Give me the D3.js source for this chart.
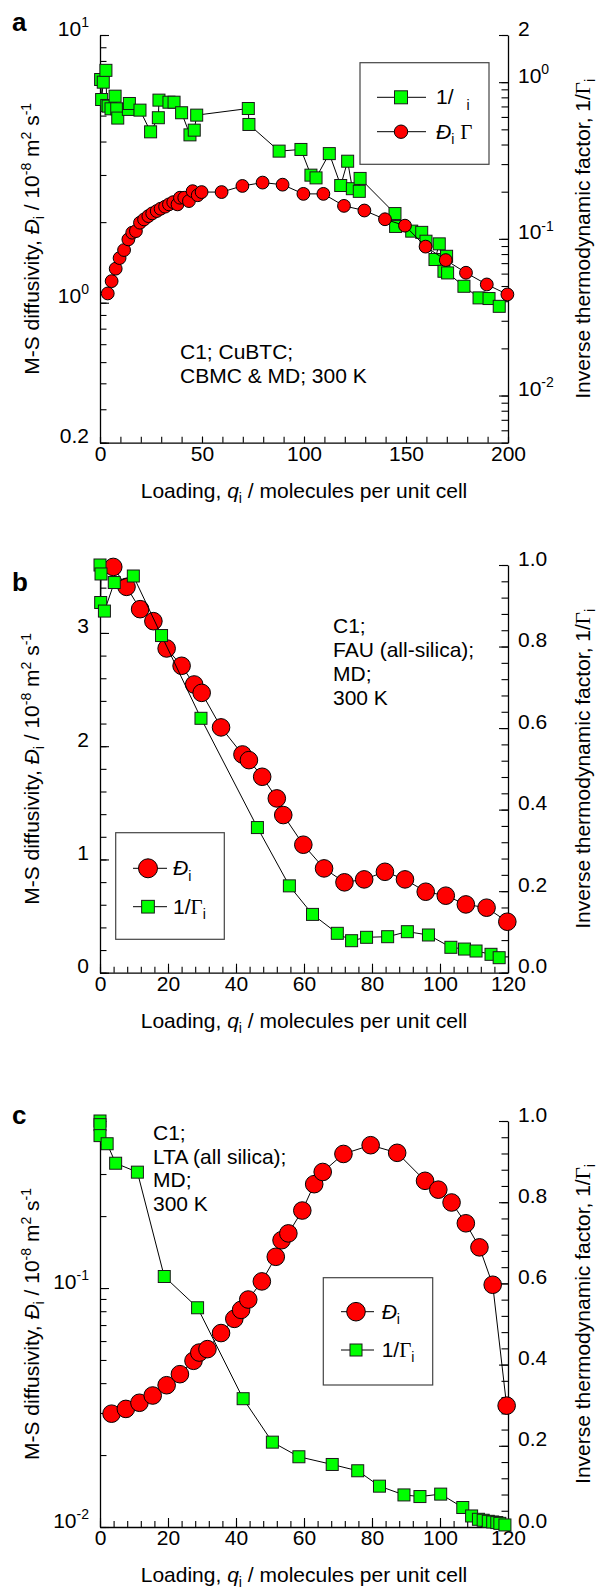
<!DOCTYPE html>
<html>
<head>
<meta charset="utf-8">
<script src="https://cdn.jsdelivr.net/npm/d3@7"></script>
<style>
  body { margin: 0; background: #fff; }
  svg text { font-family: "Liberation Sans", Arial, sans-serif; fill: #000; }
</style>
</head>
<body>
<svg id="fig" width="600" height="1592"></svg>
<script>
// ---------- Panel a: C1 in CuBTC ----------
const aLoadingD = [3.8, 5.7, 7.7, 9.6, 11.8, 13.9, 15.8, 17.6, 19.6, 21.6, 23.7, 25.6, 27.8, 29.7, 31.9, 33.8, 35.9, 38.0, 39.2, 41.3, 43.6, 45.4, 47.9, 49.8, 59.6, 69.8, 79.7, 89.5, 99.7, 109.5, 119.6, 129.6, 139.7, 149.5, 159.6, 169.5, 179.4, 189.6, 199.7];
const aDiff = [1.083, 1.204, 1.34, 1.468, 1.573, 1.724, 1.826, 1.851, 1.99, 2.047, 2.106, 2.156, 2.2, 2.244, 2.284, 2.33, 2.375, 2.33, 2.467, 2.467, 2.397, 2.61, 2.52, 2.59, 2.59, 2.73, 2.81, 2.76, 2.55, 2.55, 2.30, 2.21, 2.05, 1.94, 1.62, 1.443, 1.294, 1.17, 1.074];
const aLoadingG = [0.3, 0.8, 1.6, 2.9, 3.3, 4.0, 5.4, 7.4, 8.2, 8.7, 13.9, 14.4, 19.6, 24.8, 28.6, 28.9, 33.8, 36.3, 40.0, 44.1, 46.2, 47.4, 72.7, 73.0, 87.8, 98.5, 103.4, 105.9, 112.4, 118.0, 121.4, 123.7, 127.1, 127.5, 144.6, 144.9, 152.8, 157.7, 159.8, 164.2, 166.3, 168.6, 169.9, 170.4, 178.4, 185.8, 190.7, 195.7];
const aInvGamma = [1.04, 0.775, 1.0, 1.19, 0.71, 0.703, 0.676, 0.814, 0.676, 0.59, 0.67, 0.731, 0.663, 0.482, 0.593, 0.768, 0.745, 0.745, 0.638, 0.461, 0.494, 0.616, 0.679, 0.537, 0.363, 0.372, 0.255, 0.245, 0.35, 0.219, 0.313, 0.209, 0.201, 0.243, 0.145, 0.12, 0.112, 0.110, 0.0966, 0.0738, 0.0929, 0.0621, 0.0774, 0.0606, 0.0498, 0.042, 0.0416, 0.0371];
const aXTicks = [0, 50, 100, 150, 200];
const aXTickText = ["0", "50", "100", "150", "200"];
const aLeftTicks = [0.3, 1, 10];
const aLeftTickText = ["0.2", "10^0", "10^1"];
const aRightTicks = [0.01, 0.1, 1, 2];
const aRightTickText = ["10^-2", "10^-1", "10^0", "2"];
const aNote = ["C1; CuBTC;", "CBMC & MD; 300 K"];

// ---------- Panel b: C1 in FAU ----------
const bLoadingD = [3.9, 7.8, 11.8, 15.7, 19.6, 24.0, 27.7, 29.9, 35.6, 41.9, 43.8, 47.7, 52.0, 53.9, 59.8, 65.9, 71.9, 77.7, 83.8, 89.7, 95.8, 101.7, 107.6, 113.7, 119.8];
const bDiff = [3.583, 3.407, 3.21, 3.104, 2.863, 2.71, 2.545, 2.471, 2.166, 1.927, 1.877, 1.73, 1.539, 1.392, 1.13, 0.921, 0.798, 0.824, 0.891, 0.824, 0.715, 0.68, 0.603, 0.574, 0.45];
const bLoadingG = [0, 0.3, 0.2, 1.3, 4.2, 9.8, 18.1, 29.7, 46.3, 55.7, 62.5, 69.8, 74.0, 78.4, 84.6, 90.4, 96.6, 103.2, 107.2, 110.6, 115.0, 117.4];
const bInvGamma = [1.0, 0.978, 0.908, 0.887, 0.957, 0.973, 0.827, 0.624, 0.356, 0.213, 0.143, 0.0966, 0.0785, 0.0868, 0.0883, 0.1006, 0.0925, 0.0623, 0.058, 0.0532, 0.0451, 0.0368];
const bXTicks = [0, 20, 40, 60, 80, 100, 120];
const bXTickText = ["0", "20", "40", "60", "80", "100", "120"];
const bLeftTicks = [0, 1, 2, 3];
const bLeftTickText = ["0", "1", "2", "3"];
const bRightTicks = [0, 0.2, 0.4, 0.6, 0.8, 1.0];
const bRightTickText = ["0.0", "0.2", "0.4", "0.6", "0.8", "1.0"];
const bNote = ["C1;", "FAU (all-silica);", "MD;", "300 K"];

// ---------- Panel c: C1 in LTA ----------
const cLoadingD = [3.4, 7.6, 11.6, 15.5, 19.6, 23.5, 27.5, 29.2, 31.6, 35.6, 39.5, 41.5, 43.6, 47.6, 51.7, 53.4, 55.4, 59.5, 63.0, 65.5, 71.6, 79.6, 87.4, 95.6, 99.5, 103.4, 107.6, 111.6, 115.5, 119.6];
const cDiff = [0.0298, 0.0312, 0.0331, 0.0355, 0.0392, 0.0436, 0.0496, 0.0537, 0.0555, 0.0648, 0.0743, 0.081, 0.0895, 0.1066, 0.1351, 0.1585, 0.1693, 0.211, 0.272, 0.306, 0.364, 0.396, 0.368, 0.281, 0.258, 0.228, 0.1866, 0.148, 0.1032, 0.0322];
const cLoadingG = [0, 0, 0, 2.1, 4.6, 11.0, 18.9, 28.7, 42.1, 50.7, 58.5, 68.3, 75.8, 82.2, 89.4, 94.1, 100.2, 106.7, 109.3, 111.3, 112.7, 114.2, 115.5, 116.7, 117.6, 119.1];
const cInvGamma = [1.0, 0.991, 0.964, 0.944, 0.896, 0.874, 0.617, 0.54, 0.316, 0.209, 0.173, 0.154, 0.1385, 0.1006, 0.079, 0.075, 0.081, 0.048, 0.0272, 0.019, 0.0166, 0.014, 0.0124, 0.0109, 0.009, 0.005];
const cXTicks = [0, 20, 40, 60, 80, 100, 120];
const cXTickText = ["0", "20", "40", "60", "80", "100", "120"];
const cLeftTicks = [0.01, 0.1];
const cLeftTickText = ["10^-2", "10^-1"];
const cRightTicks = [0, 0.2, 0.4, 0.6, 0.8, 1.0];
const cRightTickText = ["0.0", "0.2", "0.4", "0.6", "0.8", "1.0"];
const cNote = ["C1;", "LTA (all silica);", "MD;", "300 K"];

// ---------- shared drawing code ----------
const FS = 21;
const SERIF = '"Liberation Serif", "Times New Roman", serif';
const svg = d3.select("#fig");
const X0 = 100, X1 = 508;

// Text with italic / subscript / superscript runs
function rich(parent, segs, fs) {
  const t = parent.append("text").attr("font-size", fs);
  let shift = 0;
  segs.forEach(s => {
    const target = s.sub ? fs * 0.25 : s.sup ? -fs * 0.38 : 0;
    const ts = t.append("tspan").text(s.t)
      .attr("dy", target - shift)
      .attr("font-size", (s.sub || s.sup) ? Math.round(fs * 0.67) : fs);
    if (s.dx) ts.attr("dx", s.dx);
    if (s.it) ts.attr("font-style", "italic");
    if (s.serif) ts.attr("font-family", SERIF);
    shift = target;
  });
  return t;
}

// "10^-2" -> base + superscript
function tickSegs(label) {
  const parts = label.split("^");
  return parts.length === 2 ? [{ t: parts[0] }, { t: parts[1], sup: true }] : [{ t: label }];
}

function logMinors(domain) {
  const out = [];
  for (let e = -4; e <= 2; e++) {
    for (let m = 1; m <= 9; m++) {
      const v = m * Math.pow(10, e);
      if (v >= domain[0] * 0.999 && v <= domain[1] * 1.001) out.push(v);
    }
  }
  return out;
}

function styleAxis(g) {
  g.attr("font-family", null).attr("font-size", null);
  g.selectAll(".domain").attr("stroke", "#000").attr("stroke-width", 1.3);
  g.selectAll(".tick line").attr("stroke", "#000").attr("stroke-width", 1.1);
}

function drawAxis(g, axisFn, scale, transform, majors, labels, minors, majLen, minLen, pad) {
  const gm = g.append("g").attr("transform", transform)
    .call(axisFn(scale).tickValues(minors).tickSize(-minLen).tickSizeOuter(0).tickFormat(""));
  gm.select(".domain").remove();
  styleAxis(gm);
  const gM = g.append("g").attr("transform", transform)
    .call(axisFn(scale).tickValues(majors).tickSize(-majLen).tickSizeOuter(0).tickPadding(pad).tickFormat((d, i) => labels[i]));
  styleAxis(gM);
  gM.selectAll(".tick text").each(function (d, i) {
    const el = d3.select(this);
    const segs = tickSegs(labels[i]);
    el.text(null).attr("font-size", FS);
    let shift = 0;
    segs.forEach(s => {
      const target = s.sup ? -FS * 0.42 : 0;
      el.append("tspan").text(s.t).attr("dy", target - shift)
        .attr("font-size", s.sup ? 14 : FS);
      shift = target;
    });
  });
}

const leftTitle = [{ t: "M-S diffusivity, " }, { t: "Đ", it: true }, { t: "i", sub: true }, { t: " / 10" }, { t: "-8", sup: true }, { t: " m" }, { t: "2", sup: true }, { t: " s" }, { t: "-1", sup: true }];
const rightTitle = [{ t: "Inverse thermodynamic factor, 1/" }, { t: "Γ", serif: true }, { t: "i", sub: true }];
const xTitle = [{ t: "Loading, " }, { t: "q", it: true }, { t: "i", sub: true }, { t: " / molecules per unit cell" }];

function series(g, x, y, qs, vs, kind, size) {
  const pts = qs.map((q, i) => [x(q), y(vs[i])]);
  g.append("path").attr("d", d3.line()(pts))
    .attr("fill", "none").attr("stroke", "#000").attr("stroke-width", 1);
  if (kind === "circle") {
    g.selectAll(null).data(pts).enter().append("circle")
      .attr("cx", d => d[0]).attr("cy", d => d[1]).attr("r", size)
      .attr("fill", "#ff0000").attr("stroke", "#000").attr("stroke-width", 1);
  } else {
    g.selectAll(null).data(pts).enter().append("rect")
      .attr("x", d => d[0] - size / 2).attr("y", d => d[1] - size / 2)
      .attr("width", size).attr("height", size)
      .attr("fill", "#00ff00").attr("stroke", "#1a1a1a").attr("stroke-width", 1);
  }
}

function legendRow(g, kind, size, lx0, lx1, mx, y, tx, segs) {
  g.append("line").attr("x1", lx0).attr("x2", lx1).attr("y1", y).attr("y2", y)
    .attr("stroke", "#000").attr("stroke-width", 1);
  if (kind === "circle") {
    g.append("circle").attr("cx", mx).attr("cy", y).attr("r", size)
      .attr("fill", "#ff0000").attr("stroke", "#000");
  } else {
    g.append("rect").attr("x", mx - size / 2).attr("y", y - size / 2)
      .attr("width", size).attr("height", size)
      .attr("fill", "#00ff00").attr("stroke", "#1a1a1a");
  }
  rich(g, segs, FS).attr("x", tx).attr("y", y + 7);
}

function panel(cfg) {
  const g = svg.append("g");
  const { top, bottom } = cfg;
  const x = d3.scaleLinear().domain([0, cfg.xMax]).range([X0, X1]);
  const yL = (cfg.leftLog ? d3.scaleLog() : d3.scaleLinear()).domain(cfg.leftDomain).range([bottom, top]);
  const yR = (cfg.rightLog ? d3.scaleLog() : d3.scaleLinear()).domain(cfg.rightDomain).range([bottom, top]);

  // axes
  drawAxis(g, d3.axisBottom, x, `translate(0,${bottom})`, cfg.xTicks, cfg.xTickText,
    d3.range(0, cfg.xMax + 0.001, cfg.xMinor), cfg.xMajLen, 6, 18);
  drawAxis(g, d3.axisLeft, yL, `translate(${X0},0)`, cfg.leftTicks, cfg.leftTickText,
    cfg.leftMinors, 9, 6.5, 11);
  drawAxis(g, d3.axisRight, yR, `translate(${X1},0)`, cfg.rightTicks, cfg.rightTickText,
    cfg.rightMinors, 9, 6.5, 10);

  // series
  cfg.order.forEach(k => {
    if (k === "D") series(g, x, yL, cfg.qD, cfg.D, "circle", cfg.r);
    else series(g, x, yR, cfg.qG, cfg.G, "square", 12);
  });

  // titles
  rich(g, xTitle, FS).attr("text-anchor", "middle").attr("x", (X0 + X1) / 2).attr("y", bottom + 55);
  const mid = (top + bottom) / 2;
  rich(g.append("g").attr("transform", `translate(39,${mid}) rotate(-90)`), leftTitle, FS)
    .attr("text-anchor", "middle");
  rich(g.append("g").attr("transform", `translate(590,${mid}) rotate(-90)`), rightTitle, FS)
    .attr("text-anchor", "middle");

  // panel letter
  g.append("text").text(cfg.letter).attr("x", 12).attr("y", cfg.letterY)
    .attr("font-size", 26).attr("font-weight", "bold");

  // annotation
  const note = g.append("text").attr("font-size", FS);
  cfg.note.forEach((line, i) => {
    note.append("tspan").text(line).attr("x", cfg.noteX).attr("y", cfg.noteY + i * cfg.noteDy);
  });

  // legend
  const L = cfg.legend;
  g.append("rect").attr("x", L.x0).attr("y", L.y0).attr("width", L.x1 - L.x0).attr("height", L.y1 - L.y0)
    .attr("fill", "#fff").attr("stroke", "#444").attr("stroke-width", 1.2);
  L.rows.forEach(r => legendRow(g, r.kind, r.size, L.lx0, L.lx1, L.mx, r.y, L.tx, r.segs));
}

panel({
  letter: "a", letterY: 31, top: 35, bottom: 442.7, xMax: 200, xMinor: 10, xMajLen: 6,
  xTicks: aXTicks, xTickText: aXTickText,
  leftLog: true, leftDomain: [0.3, 10], leftTicks: aLeftTicks, leftTickText: aLeftTickText,
  leftMinors: logMinors([0.3, 10]),
  rightLog: true, rightDomain: [0.005, 2], rightTicks: aRightTicks, rightTickText: aRightTickText,
  rightMinors: logMinors([0.005, 2]),
  qD: aLoadingD, D: aDiff, qG: aLoadingG, G: aInvGamma, r: 6.4, order: ["G", "D"],
  note: aNote, noteX: 180, noteY: 359, noteDy: 24,
  legend: {
    x0: 360, y0: 62.7, x1: 489, y1: 164.3, lx0: 377, lx1: 426, mx: 401, tx: 436,
    rows: [
      { kind: "square", size: 13, y: 97.3, segs: [{ t: "1/" }, { t: "i", sub: true, dx: 13 }] },
      { kind: "circle", size: 6.7, y: 131.7, segs: [{ t: "Đ", it: true }, { t: "i", sub: true }, { t: " " }, { t: "Γ", serif: true }] }
    ]
  }
});

panel({
  letter: "b", letterY: 591, top: 565, bottom: 972.7, xMax: 120, xMinor: 4, xMajLen: 9,
  xTicks: bXTicks, xTickText: bXTickText,
  leftLog: false, leftDomain: [0, 3.6], leftTicks: bLeftTicks, leftTickText: bLeftTickText,
  leftMinors: d3.range(0, 3.601, 0.2),
  rightLog: false, rightDomain: [0, 1], rightTicks: bRightTicks, rightTickText: bRightTickText,
  rightMinors: d3.range(0, 1.001, 0.04),
  qD: bLoadingD, D: bDiff, qG: bLoadingG, G: bInvGamma, r: 8.8, order: ["D", "G"],
  note: bNote, noteX: 333, noteY: 633, noteDy: 24,
  legend: {
    x0: 115.7, y0: 832.7, x1: 224.3, y1: 939.3, lx0: 133, lx1: 167, mx: 148, tx: 173,
    rows: [
      { kind: "circle", size: 9.5, y: 868.3, segs: [{ t: "Đ", it: true }, { t: "i", sub: true }] },
      { kind: "square", size: 12.7, y: 906.7, segs: [{ t: "1/" }, { t: "Γ", serif: true }, { t: "i", sub: true }] }
    ]
  }
});

panel({
  letter: "c", letterY: 1124, top: 1121, bottom: 1527, xMax: 120, xMinor: 4, xMajLen: 9,
  xTicks: cXTicks, xTickText: cXTickText,
  leftLog: true, leftDomain: [0.01, 0.5], leftTicks: cLeftTicks, leftTickText: cLeftTickText,
  leftMinors: logMinors([0.01, 0.5]),
  rightLog: false, rightDomain: [0, 1], rightTicks: cRightTicks, rightTickText: cRightTickText,
  rightMinors: d3.range(0, 1.001, 0.04),
  qD: cLoadingD, D: cDiff, qG: cLoadingG, G: cInvGamma, r: 8.8, order: ["D", "G"],
  note: cNote, noteX: 153, noteY: 1140, noteDy: 23.5,
  legend: {
    x0: 323.3, y0: 1277.7, x1: 432.7, y1: 1385, lx0: 341, lx1: 374, mx: 356, tx: 381.7,
    rows: [
      { kind: "circle", size: 9.3, y: 1311.7, segs: [{ t: "Đ", it: true }, { t: "i", sub: true }] },
      { kind: "square", size: 12, y: 1350, segs: [{ t: "1/" }, { t: "Γ", serif: true }, { t: "i", sub: true }] }
    ]
  }
});
</script>
</body>
</html>
